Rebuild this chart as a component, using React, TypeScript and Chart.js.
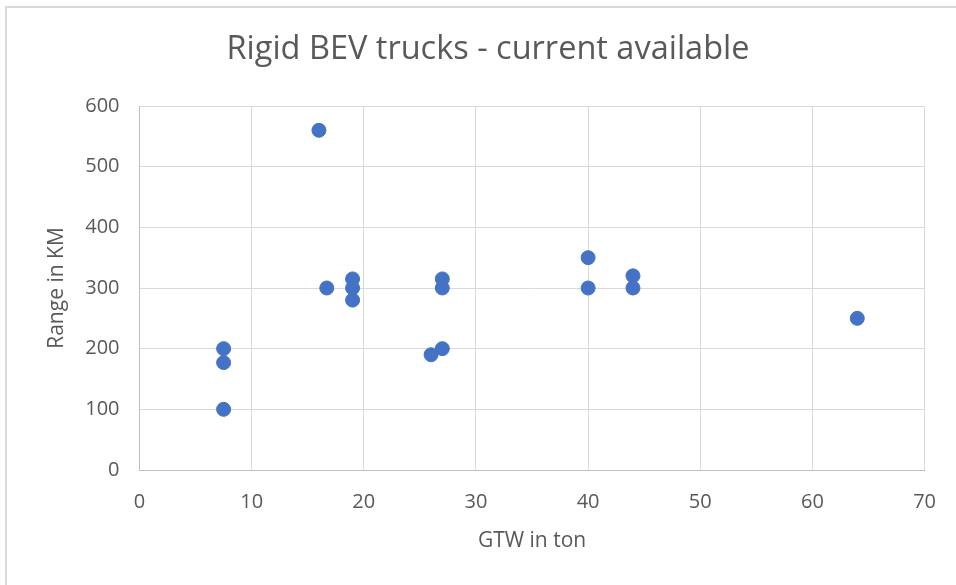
import React, { useEffect, useRef } from "react";
import { Chart, registerables } from "chart.js";

Chart.register(...registerables);

const titleText = "Rigid BEV trucks - current available";
const xAxisTitle = "GTW in ton";
const yAxisTitle = "Range in KM";

const gtwTon = [16, 16.7, 7.5, 7.5, 7.5, 19, 19, 19, 26, 27, 27, 27, 40, 40, 44, 44, 64];
const rangeKm = [560, 300, 200, 177, 100, 315, 300, 280, 190, 315, 300, 200, 350, 300, 320, 300, 250];

const xMin = 0;
const xMax = 70;
const xStep = 10;
const yMin = 0;
const yMax = 600;
const yStep = 100;

const FONT = "'Open Sans', sans-serif";

// Excel centres the title over the full chart object, which extends past the right of the picture
const titlePlugin = {
  id: "excelTitle",
  afterDraw(chart: any) {
    const ctx = chart.ctx;
    ctx.save();
    ctx.fillStyle = "#595959";
    ctx.font = `normal 32.5px ${FONT}`;
    ctx.textAlign = "center";
    ctx.textBaseline = "middle";
    ctx.fillText(titleText, 488, 50);
    ctx.restore();
  },
};

export default function App() {
  const ref = useRef<HTMLCanvasElement | null>(null);

  useEffect(() => {
    if (!ref.current) return;
    const points = gtwTon.map((x, i) => ({ x, y: rangeKm[i] }));
    const chart = new Chart(ref.current, {
      type: "scatter",
      data: {
        datasets: [
          {
            label: "Trucks",
            data: points,
            backgroundColor: "#4472C4",
            borderColor: "#4472C4",
            borderWidth: 1,
            pointRadius: 7,
            pointHoverRadius: 7,
          },
        ],
      },
      plugins: [titlePlugin],
      options: {
        responsive: false,
        animation: false,
        layout: { padding: { left: 0, right: 27, top: 106, bottom: 0 } },
        plugins: {
          legend: { display: false },
          tooltip: { enabled: false },
          title: { display: false },
        },
        scales: {
          x: {
            type: "linear",
            min: xMin,
            max: xMax,
            ticks: {
              stepSize: xStep,
              color: "#595959",
              font: { family: FONT, size: 20 },
              padding: 20,
              maxRotation: 0,
            },
            grid: { color: "#d9d9d9", lineWidth: 1, drawTicks: false },
            border: { color: "#bfbfbf", width: 1 },
            title: {
              display: true,
              text: xAxisTitle,
              color: "#595959",
              font: { family: FONT, size: 21 },
              padding: { top: 8, bottom: 31 },
            },
            afterFit: (scale: any) => {
              scale.height = 115;
            },
          },
          y: {
            type: "linear",
            min: yMin,
            max: yMax,
            ticks: {
              stepSize: yStep,
              color: "#595959",
              font: { family: FONT, size: 20 },
              padding: 20,
            },
            grid: { color: "#d9d9d9", lineWidth: 1, drawTicks: false },
            border: { color: "#bfbfbf", width: 1 },
            title: {
              display: true,
              text: yAxisTitle,
              color: "#595959",
              font: { family: FONT, size: 21 },
              padding: { top: 44, bottom: 0 },
            },
            afterFit: (scale: any) => {
              scale.width = 139.5;
            },
          },
        },
      },
    });
    return () => chart.destroy();
  }, []);

  return (
    <div
      style={{
        position: "absolute",
        left: 0,
        top: 0,
        width: 956,
        height: 585,
        overflow: "hidden",
        background: "#ffffff",
      }}
    >
      <div
        style={{
          position: "absolute",
          left: 5,
          top: 6,
          width: 1100,
          height: 800,
          border: "2px solid #d9d9d9",
          boxSizing: "border-box",
        }}
      />
      <canvas
        ref={ref}
        width={956}
        height={585}
        style={{ position: "absolute", left: 0, top: 0, width: 956, height: 585 }}
      />
    </div>
  );
}
